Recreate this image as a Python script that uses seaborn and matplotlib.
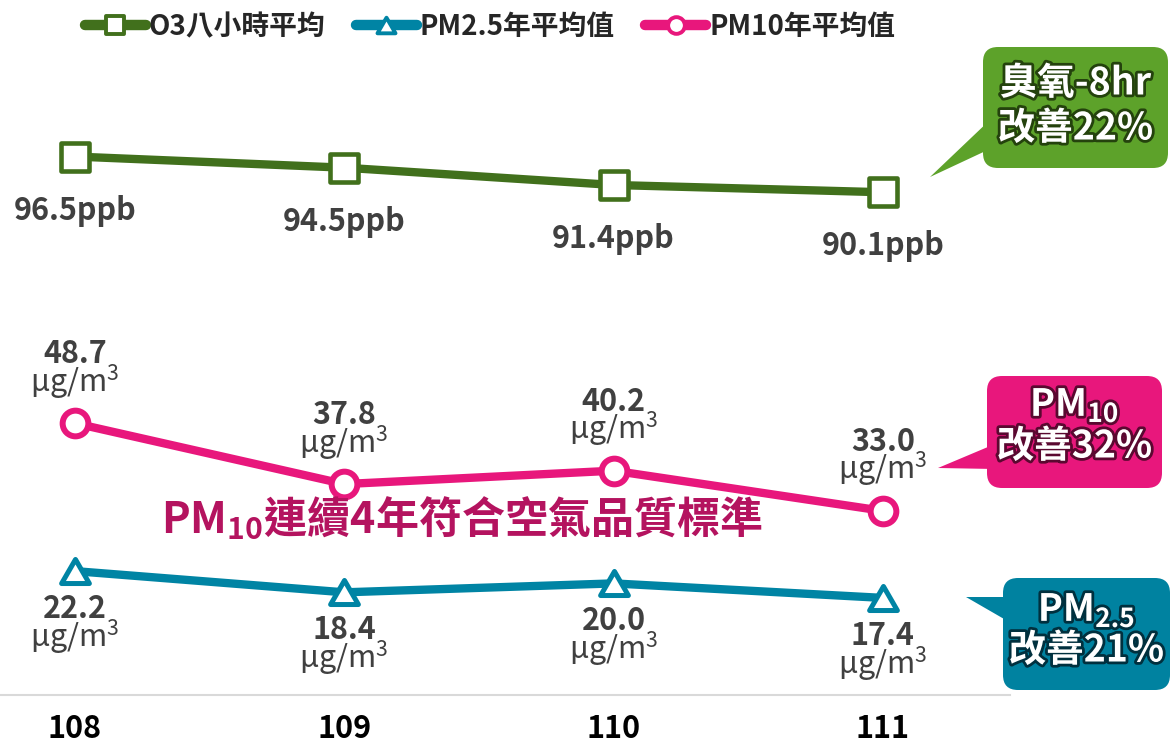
import matplotlib
matplotlib.use('Agg')
import matplotlib.pyplot as plt
import matplotlib.patheffects as pe
from matplotlib.markers import MarkerStyle
from matplotlib.path import Path
from matplotlib.patches import FancyBboxPatch, Polygon
import numpy as np
import pandas as pd
import seaborn as sns

# ---------------- data ----------------
years = ['108', '109', '110', '111']
o3 = [96.5, 94.5, 91.4, 90.1]
pm10 = [48.7, 37.8, 40.2, 33.0]
pm25 = [22.2, 18.4, 20.0, 17.4]
o3_labels = ['96.5ppb', '94.5ppb', '91.4ppb', '90.1ppb']
pm10_labels = ['48.7', '37.8', '40.2', '33.0']
pm25_labels = ['22.2', '18.4', '20.0', '17.4']
legend_names = ['O3八小時平均', 'PM2.5年平均值', 'PM10年平均值']
unit = r'µg/m$^{\mathregular{3}}$'
headline = r'$\mathbf{PM}_{\mathbf{10}}$連續4年符合空氣品質標準'
o3_box = ['臭氧-8hr', '改善22%']
pm10_box = [r'$\mathbf{PM}_{\mathbf{10}}$', '改善32%']
pm25_box = [r'$\mathbf{PM}_{\mathbf{2.5}}$', '改善21%']

sns.set_style('white')
plt.rcParams['font.family'] = ['Noto Sans CJK TC', 'DejaVu Sans']
plt.rcParams['mathtext.fontset'] = 'custom'
plt.rcParams['mathtext.rm'] = 'Noto Sans CJK TC'
plt.rcParams['mathtext.bf'] = 'Noto Sans CJK TC:bold'
plt.rcParams['axes.unicode_minus'] = False

GREEN = '#41701c'
TEAL = '#0084a4'
PINK = '#e8177c'
GRAY = '#404040'

df = pd.DataFrame({'x': np.arange(len(years)), 'o3': o3, 'pm10': pm10, 'pm25': pm25})

W, H = 1171, 740
fig = plt.figure(figsize=(W / 100, H / 100), dpi=100)
ax = fig.add_axes([0, 45 / H, 1010 / W, 695 / H])

sq = MarkerStyle('s', joinstyle='round')
tri_path = Path([(0, 0.433), (-0.5, -0.433), (0.5, -0.433), (0, 0.433)],
                [Path.MOVETO, Path.LINETO, Path.LINETO, Path.CLOSEPOLY])
tri = MarkerStyle(tri_path, joinstyle='round')
circ = MarkerStyle('o')

sns.lineplot(data=df, x='x', y='o3', ax=ax, color=GREEN, linewidth=6,
             marker=sq, markersize=20, markerfacecolor='white',
             markeredgecolor=GREEN, markeredgewidth=3.3, label=legend_names[0], zorder=3)
sns.lineplot(data=df, x='x', y='pm25', ax=ax, color=TEAL, linewidth=6,
             marker=tri, markersize=20, markerfacecolor='white',
             markeredgecolor=TEAL, markeredgewidth=3.6, label=legend_names[1], zorder=3)
sns.lineplot(data=df, x='x', y='pm10', ax=ax, color=PINK, linewidth=6,
             marker=circ, markersize=18.5, markerfacecolor='white',
             markeredgecolor=PINK, markeredgewidth=4.3, label=legend_names[2], zorder=3)

ax.set_xlim(-75 / 269.3, (1010 - 75) / 269.3)
ax.set_ylim(0, 695 / 5.58)
ax.set_xticks(range(len(years)))
ax.set_xticklabels(years, fontsize=22, fontweight='bold', color='black')
ax.tick_params(axis='x', length=0, pad=13)
ax.set_yticks([])
ax.set_xlabel('')
ax.set_ylabel('')
for s in ['left', 'right', 'top']:
    ax.spines[s].set_visible(False)
ax.spines['bottom'].set_color('#d9d9d9')
ax.spines['bottom'].set_linewidth(1.5)

# value labels
for i in range(len(years)):
    ax.annotate(o3_labels[i], (i, o3[i]), xytext=(0, -63), textcoords='offset pixels',
                ha='center', va='baseline', fontsize=22, fontweight='bold', color=GRAY)
    ax.annotate(pm10_labels[i], (i, pm10[i]), xytext=(0, 60), textcoords='offset pixels',
                ha='center', va='baseline', fontsize=22, fontweight='bold', color=GRAY)
    ax.annotate(unit, (i, pm10[i]), xytext=(0, 31), textcoords='offset pixels',
                ha='center', va='baseline', fontsize=22, color=GRAY)
    ax.annotate(pm25_labels[i], (i, pm25[i]), xytext=(0, -47), textcoords='offset pixels',
                ha='center', va='baseline', fontsize=22, fontweight='bold', color=GRAY)
    ax.annotate(unit, (i, pm25[i]), xytext=(0, -76), textcoords='offset pixels',
                ha='center', va='baseline', fontsize=22, color=GRAY)

# legend
handles, labels = ax.get_legend_handles_labels()
ax.get_legend().remove()
leg = fig.legend(handles, labels, loc='center', bbox_to_anchor=(490 / W, 1 - 27 / H),
                 ncol=3, frameon=False, prop=dict(weight='bold', size=20),
                 handlelength=2.2, handletextpad=0.1, columnspacing=1.1, markerscale=0.65)
for l in leg.get_lines():
    l.set_linewidth(7.5)
    l.set_solid_capstyle('round')
    l.set_markeredgewidth(2.8)

# overlay for callouts / headline (pixel coordinates)
ov = fig.add_axes([0, 0, 1, 1])
ov.set_xlim(0, W)
ov.set_ylim(H, 0)
ov.axis('off')
ov.patch.set_alpha(0)

ov.text(462, 519, headline, ha='center', va='center', fontsize=31,
        fontweight='bold', color='#b4135f', family='Noto Sans CJK TC')


def callout(x0, y0, x1, y1, pointer, color, dark, lines, ys):
    ov.add_patch(FancyBboxPatch((x0, y0), x1 - x0, y1 - y0,
                                boxstyle='round,pad=0,rounding_size=15',
                                facecolor=color, edgecolor='none'))
    ov.add_patch(Polygon(pointer, closed=True, facecolor=color, edgecolor='none'))
    cx = (x0 + x1) / 2
    for t, y in zip(lines, ys):
        ov.text(cx, y, t, ha='center', va='center', fontsize=27, fontweight='bold',
                color='white', family='Noto Sans CJK TC',
                path_effects=[pe.withStroke(linewidth=4, foreground=dark)])


callout(983, 47, 1168, 168, [(992, 118), (930, 177), (992, 148)],
        '#5da22a', '#24420d', o3_box, [83, 128])
callout(987, 376, 1162, 488, [(995, 444), (938, 468), (995, 469)],
        PINK, '#5a0830', pm10_box, [405, 446])
callout(1003, 578, 1170, 690, [(1011, 597), (966, 597), (1011, 623)],
        '#0082a0', '#00303e', pm25_box, [610, 650])

fig.savefig('out.png', dpi=100)
